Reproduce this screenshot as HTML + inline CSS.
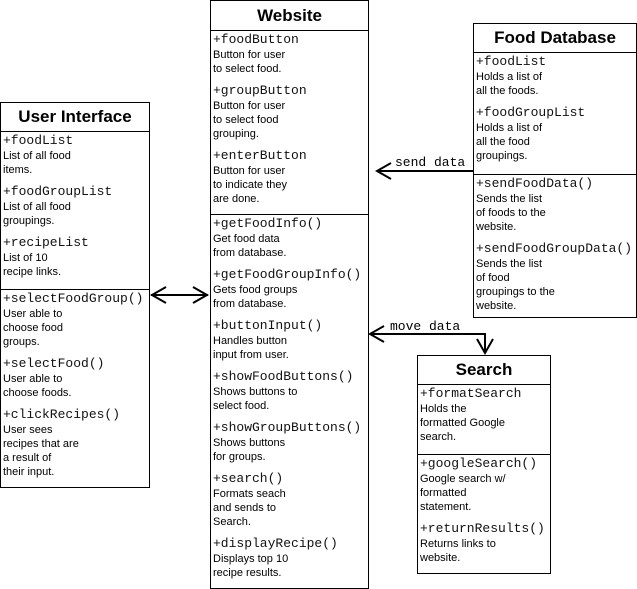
<!DOCTYPE html>
<html><head><style>
body{margin:0;width:637px;height:589px;background:#fff;position:relative;overflow:hidden;font-family:"Liberation Sans",sans-serif}
.box{position:absolute;border:1px solid #000;background:#fff;box-sizing:border-box}
.t{height:28px;border-bottom:1px solid #000;text-align:center;font-weight:bold;font-size:17px;line-height:28px}
.sec{padding:1px 0 0 2px}
.sec+.sec{border-top:1px solid #000}
.a{font-family:"Liberation Mono",monospace;font-size:13px;line-height:16px;color:#111}
.d{font-size:11px;line-height:14px;margin-bottom:7px}
svg{position:absolute;left:0;top:0}
.lbl{position:absolute;font-family:"Liberation Mono",monospace;font-size:13px;line-height:14px}
</style></head><body>
<div class="box" style="left:210px;top:0;width:159px;height:589px">
<div class="t" style="height:29px;line-height:29px">Website</div>
<div class="sec" style="height:182px">
<div class="a">+foodButton</div><div class="d">Button for user<br>to select food.</div>
<div class="a">+groupButton</div><div class="d">Button for user<br>to select food<br>grouping.</div>
<div class="a">+enterButton</div><div class="d">Button for user<br>to indicate they<br>are done.</div>
</div>
<div class="sec">
<div class="a">+getFoodInfo()</div><div class="d">Get food data<br>from database.</div>
<div class="a">+getFoodGroupInfo()</div><div class="d">Gets food groups<br>from database.</div>
<div class="a">+buttonInput()</div><div class="d">Handles button<br>input from user.</div>
<div class="a">+showFoodButtons()</div><div class="d">Shows buttons to<br>select food.</div>
<div class="a">+showGroupButtons()</div><div class="d">Shows buttons<br>for groups.</div>
<div class="a">+search()</div><div class="d">Formats seach<br>and sends to<br>Search.</div>
<div class="a">+displayRecipe()</div><div class="d">Displays top 10<br>recipe results.</div>
</div></div>

<div class="box" style="left:0;top:102px;width:150px;height:386px">
<div class="t">User Interface</div>
<div class="sec" style="height:156px">
<div class="a">+foodList</div><div class="d">List of all food<br>items.</div>
<div class="a">+foodGroupList</div><div class="d">List of all food<br>groupings.</div>
<div class="a">+recipeList</div><div class="d">List of 10<br>recipe links.</div>
</div>
<div class="sec">
<div class="a">+selectFoodGroup()</div><div class="d">User able to<br>choose food<br>groups.</div>
<div class="a">+selectFood()</div><div class="d">User able to<br>choose foods.</div>
<div class="a">+clickRecipes()</div><div class="d">User sees<br>recipes that are<br>a result of<br>their input.</div>
</div></div>

<div class="box" style="left:473px;top:23px;width:164px;height:295px">
<div class="t">Food Database</div>
<div class="sec" style="height:120px">
<div class="a">+foodList</div><div class="d">Holds a list of<br>all the foods.</div>
<div class="a">+foodGroupList</div><div class="d">Holds a list of<br>all the food<br>groupings.</div>
</div>
<div class="sec">
<div class="a">+sendFoodData()</div><div class="d">Sends the list<br>of foods to the<br>website.</div>
<div class="a">+sendFoodGroupData()</div><div class="d">Sends the list<br>of food<br>groupings to the<br>website.</div>
</div></div>

<div class="box" style="left:417px;top:355px;width:134px;height:219px">
<div class="t">Search</div>
<div class="sec" style="height:68px">
<div class="a">+formatSearch</div><div class="d">Holds the<br>formatted Google<br>search.</div>
</div>
<div class="sec">
<div class="a">+googleSearch()</div><div class="d">Google search w/<br>formatted<br>statement.</div>
<div class="a">+returnResults()</div><div class="d">Returns links to<br>website.</div>
</div></div>

<svg width="637" height="589" fill="none" stroke="#000" stroke-width="2">
<path d="M151 295H208M166 287L152 295L166 303M193 287L207 295L193 303"/>
<path d="M473 171H377M391 163L377 171L391 179"/>
<path d="M370 334H485V353M384 326L370 334L384 342M477 339L485 353L493 339"/>
</svg>
<div class="lbl" style="left:395px;top:156px">send data</div>
<div class="lbl" style="left:390px;top:320px">move data</div>
</body></html>
